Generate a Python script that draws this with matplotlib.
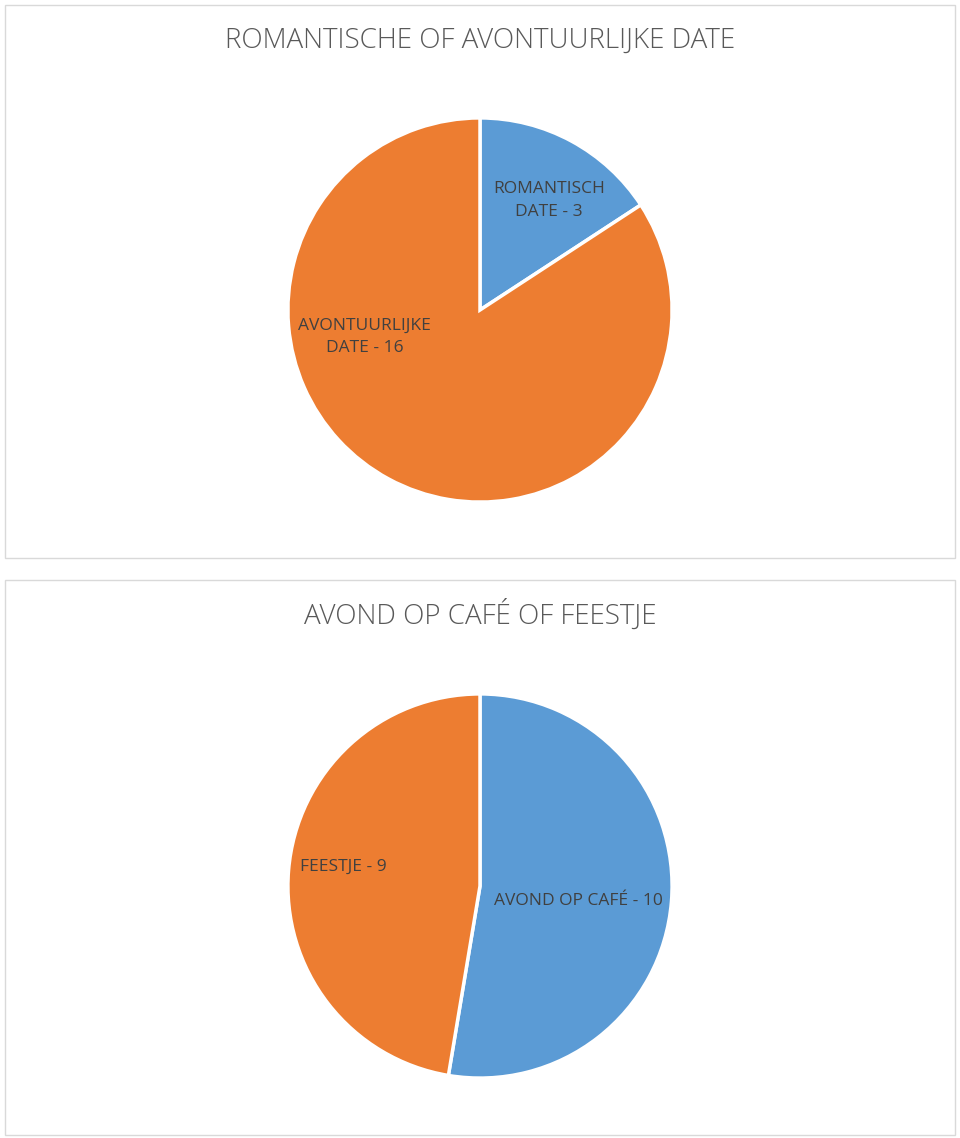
import matplotlib
matplotlib.use("Agg")
from matplotlib import pyplot as plt
from matplotlib.patches import Rectangle

W, H = 960, 1138

# chart data
title1 = "ROMANTISCHE OF AVONTUURLIJKE DATE"
labels1 = ["ROMANTISCH\nDATE - 3", "AVONTUURLIJKE\nDATE - 16"]
values1 = [3, 16]

title2 = "AVOND OP CAFÉ OF FEESTJE"
labels2 = ["AVOND OP CAFÉ - 10", "FEESTJE - 9"]
values2 = [10, 9]

colors = ["#5B9BD5", "#ED7D31"]

# label spots (in pie radius units, relative to centre)
spots1 = [(0.36, 0.57), (-0.60, -0.14)]
spots2 = [(0.51, -0.08), (-0.71, 0.10)]

plt.rcParams['font.family'] = ['Open Sans', 'DejaVu Sans']

fig = plt.figure(figsize=(W / 100, H / 100), dpi=100)


def px_rect(x0, y0, x1, y1):
    # pixel box (top-left origin) -> figure fraction [l, b, w, h]
    return [x0 / W, 1 - y1 / H, (x1 - x0) / W, (y1 - y0) / H]


def panel(box, title, title_y, title_size, values, labels, spots, pie_box):
    l, b, w, h = px_rect(*box)
    fig.patches.append(Rectangle((l, b), w, h, transform=fig.transFigure,
                                 facecolor="white", edgecolor="#D9D9D9",
                                 lw=1, zorder=-5))
    fig.text(0.5, 1 - title_y / H, title, ha="center", va="center",
             fontsize=title_size, color="#595959", fontweight="light")
    ax = fig.add_axes(px_rect(*pie_box))
    ax.set_zorder(2)
    ax.patch.set_visible(False)
    ax.pie(values, colors=colors, startangle=90, counterclock=False,
           radius=1, wedgeprops=dict(edgecolor="white", linewidth=2.5))
    ax.set_xlim(-1.01, 1.01)
    ax.set_ylim(-1.01, 1.01)
    ax.axis("off")
    for lab, (x, y) in zip(labels, spots):
        ax.text(x, y, lab, ha="center", va="center", fontsize=12.5,
                color="#404040", linespacing=1.55)


panel((5, 5, 955, 558), title1, 41, 20, values1, labels1, spots1,
      (286, 116, 674, 504))
panel((5, 580, 955, 1135), title2, 615, 20, values2, labels2, spots2,
      (286, 692, 674, 1080))

fig.savefig("out.png", dpi=100, facecolor="white")
